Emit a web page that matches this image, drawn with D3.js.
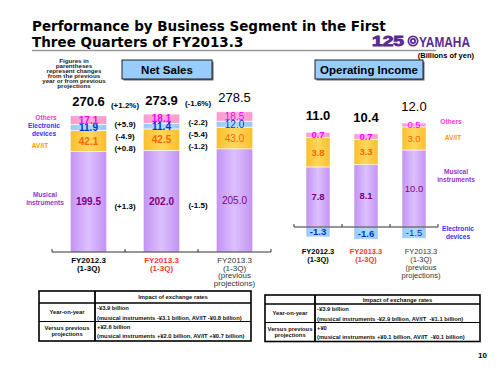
<!DOCTYPE html>
<html><head><meta charset="utf-8">
<script src="https://cdn.jsdelivr.net/npm/d3@7"></script>
<style>
body{margin:0;background:#fff}
svg{display:block;font-family:"Liberation Sans",Arial,sans-serif}
text{white-space:pre}
</style>
</head><body><svg id="c" width="500" height="375"></svg>
<script>
// ---------- data ----------
const categories = ["FY2012.3", "FY2013.3", "FY2013.3"];
const categorySub = [["(1-3Q)"], ["(1-3Q)"], ["(1-3Q)", "(previous", "projections)"]];
const segmentKeys = ["musical", "avit", "electronic", "others"];
const legendLabels = {musical: ["Musical", "instruments"], avit: ["AV/IT"], electronic: ["Electronic", "devices"], others: ["Others"]};

const salesMusical = [199.5, 202.0, 205.0];
const salesAVIT = [42.1, 42.5, 43.0];
const salesElectronic = [11.9, 11.4, 12.0];
const salesOthers = [17.1, 18.1, 18.5];
const salesTotal = [270.6, 273.9, 278.5];
const salesTotalChange = ["(+1.2%)", "(-1.6%)"];
const salesOthersChange = ["(+5.9)", "(-2.2)"];
const salesElectronicChange = ["(-4.9)", "(-5.4)"];
const salesAVITChange = ["(+0.8)", "(-1.2)"];
const salesMusicalChange = ["(+1.3)", "(-1.5)"];

const incomeMusical = [7.8, 8.1, 10.0];
const incomeAVIT = [3.8, 3.3, 3.0];
const incomeElectronic = [-1.3, -1.6, -1.5];
const incomeOthers = [0.7, 0.7, 0.5];
const incomeTotal = [11.0, 10.4, 12.0];

const fxHeader = "Impact of exchange rates";
const fxRowLabels = [["Year-on-year"], ["Versus previous", "projections"]];
const salesFxText = [["-¥3.9 billion", "(musical instruments -¥3.1 billion, AV/IT -¥0.8 billion)"],
                     ["+¥2.6 billion", "(musical instruments +¥2.0 billion, AV/IT +¥0.7 billion)"]];
const incomeFxText = [["-¥3.9 billion", "(musical instruments -¥2.9 billion, AV/IT  -¥1.1 billion)"],
                      ["+¥0", "(musical instruments +¥0.1 billion, AV/IT  -¥0.1 billion)"]];

const noteLines = ["Figures in", "parentheses", "represent changes", "from the previous", "year or from previous", "projections"];

// ---------- styles ----------
const valueColor = {musical: "#800080", avit: "#ff6600", electronic: "#0033cc", others: "#ff00ff"};
const legendColor = {musical: "#9933cc", avit: "#ff9900", electronic: "#3333ff", others: "#ff33cc"};
const catColor = ["#000", "#ff3333", "#333"];
const catWeight = ["bold", "bold", "normal"];
const fmt = d3.formatLocale({decimal: ".", thousands: ",", grouping: [3], currency: ["", ""], minus: "-"}).format(".1f");

const svg = d3.select("#c");
const defs = svg.append("defs");
function grad(id, edge, mid) {
  const g = defs.append("linearGradient").attr("id", id).attr("x1", 0).attr("x2", 1).attr("y1", 0).attr("y2", 0);
  g.append("stop").attr("offset", "0%").attr("stop-color", edge);
  g.append("stop").attr("offset", "50%").attr("stop-color", mid);
  g.append("stop").attr("offset", "100%").attr("stop-color", edge);
}
grad("gMus", "#c393f3", "#dcc0fe");
grad("gAv", "#f9bf2c", "#ffd75e");
grad("gEl", "#98c8f6", "#b4dafc");
grad("gOt", "#f79ccd", "#fdb0da");
const fillFor = {musical: "url(#gMus)", avit: "url(#gAv)", electronic: "url(#gEl)", others: "url(#gOt)"};

// ---------- title ----------
const title = svg.append("g").attr("font-family", "'DejaVu Sans',sans-serif").attr("font-weight", "bold").attr("font-size", 13.5).attr("fill", "#000");
title.append("text").attr("x", 32).attr("y", 31).text("Performance by Business Segment in the First");
title.append("text").attr("x", 32).attr("y", 46.5).text("Three Quarters of FY2013.3");
svg.append("line").attr("x1", 32).attr("x2", 436).attr("y1", 50.5).attr("y2", 50.5).attr("stroke", "#9a9a9a").attr("stroke-width", 1.5);

// logo
const logo = svg.append("g").attr("fill", "#5b2c8f");
logo.append("text").attr("x", 372).attr("y", 46).attr("font-size", 14).attr("font-weight", 900)
  .attr("stroke", "#5b2c8f").attr("stroke-width", 0.9)
  .attr("textLength", 32).attr("lengthAdjust", "spacingAndGlyphs").text("125");
logo.append("circle").attr("cx", 413).attr("cy", 41).attr("r", 5.5);
logo.append("circle").attr("cx", 413).attr("cy", 41).attr("r", 3.6).attr("fill", "none").attr("stroke", "#fff").attr("stroke-width", 0.8);
logo.append("circle").attr("cx", 413).attr("cy", 41).attr("r", 1.2).attr("fill", "#fff");
logo.append("text").attr("x", 419).attr("y", 46.5).attr("font-size", 14.5).attr("font-weight", "bold")
  .attr("textLength", 51).attr("lengthAdjust", "spacingAndGlyphs").text("YAMAHA");
svg.append("text").attr("x", 474).attr("y", 58).attr("text-anchor", "end").attr("font-size", 7.5).attr("font-weight", "bold").text("(Billions of yen)");

// note
const note = svg.append("g").attr("font-size", 6.2).attr("font-weight", "bold").attr("fill", "#222").attr("text-anchor", "middle");
noteLines.forEach((t, i) => note.append("text").attr("x", 74).attr("y", 63 + i * 5).text(t));

// boxes
function box(x, y, w, h, label) {
  svg.append("rect").attr("x", x + 1.5).attr("y", y + 1.5).attr("width", w).attr("height", h).attr("fill", "#666");
  svg.append("rect").attr("x", x).attr("y", y).attr("width", w).attr("height", h).attr("fill", "#99ccff").attr("stroke", "#222").attr("stroke-width", 1);
  svg.append("text").attr("x", x + w / 2).attr("y", y + h / 2).attr("dy", "0.36em").attr("text-anchor", "middle")
    .attr("font-size", 11.5).attr("font-weight", "bold").text(label);
}
box(122, 60, 90, 19, "Net Sales");
box(315, 60, 108, 19, "Operating Income");

// ---------- chart builder ----------
function drawChart(cfg) {
  const rows = categories.map((c, i) => ({i, musical: cfg.musical[i], avit: cfg.avit[i], electronic: cfg.electronic[i], others: cfg.others[i]}));
  const x = d3.scaleBand().domain(d3.range(categories.length)).range(cfg.xRange).paddingInner(0.5).paddingOuter(0.25);
  const y = d3.scaleLinear().domain(cfg.yDomain).range(cfg.yRange);
  const series = d3.stack().keys(segmentKeys).offset(d3.stackOffsetDiverging)(rows);
  const g = svg.append("g");

  // bars
  series.forEach(s => {
    g.selectAll(null).data(s).join("rect")
      .attr("x", d => x(d.data.i)).attr("width", x.bandwidth())
      .attr("y", d => y(Math.max(d[0], d[1]))).attr("height", d => Math.abs(y(d[0]) - y(d[1])))
      .attr("fill", fillFor[s.key]).attr("stroke", "#fff").attr("stroke-width", 0.6);
  });
  // values
  series.forEach(s => {
    g.selectAll(null).data(s).join("text")
      .attr("x", d => x(d.data.i) + x.bandwidth() / 2)
      .attr("y", d => y((d[0] + d[1]) / 2)).attr("dy", "0.36em")
      .attr("text-anchor", "middle").attr("font-size", cfg.valueSize)
      .attr("font-weight", d => catWeight[d.data.i])
      .attr("fill", valueColor[s.key])
      .text(d => fmt(d.data[s.key]));
  });
  // totals
  const topOf = i => y(d3.sum(segmentKeys, k => Math.max(0, rows[i][k])));
  g.selectAll(null).data(cfg.total).join("text")
    .attr("x", (d, i) => x(i) + x.bandwidth() / 2).attr("y", (d, i) => topOf(i) - cfg.totalGap)
    .attr("text-anchor", "middle").attr("font-size", 13).attr("font-weight", (d, i) => catWeight[i])
    .attr("fill", "#000").text(d => fmt(d));

  // axis
  const axY = y(0);
  const [r0, r1] = x.range();
  g.append("line").attr("x1", r0).attr("x2", r1).attr("y1", axY).attr("y2", axY).attr("stroke", "#333").attr("stroke-width", 1.2);
  g.selectAll(null).data(d3.range(categories.length + 1)).join("line")
    .attr("x1", i => r0 + i * x.step()).attr("x2", i => r0 + i * x.step())
    .attr("y1", axY).attr("y2", axY - 3).attr("stroke", "#333").attr("stroke-width", 1);

  // category labels
  categories.forEach((c, i) => {
    const lines = [c].concat(categorySub[i]);
    lines.forEach((t, j) => {
      g.append("text").attr("x", x(i) + x.bandwidth() / 2 + (i === 2 ? cfg.thirdShift : 0))
        .attr("y", cfg.catY + j * cfg.catLH).attr("text-anchor", "middle")
        .attr("font-size", cfg.catSize).attr("font-weight", catWeight[i]).attr("fill", catColor[i]).text(t);
    });
  });

  // legend labels
  cfg.legend.forEach(L => {
    legendLabels[L.key].forEach((t, j) => {
      g.append("text").attr("x", L.x).attr("y", L.y + j * 8).attr("text-anchor", "middle")
        .attr("font-size", 6.6).attr("font-weight", "bold").attr("fill", legendColor[L.key]).text(t);
    });
  });
  return {x, y, rows, topOf};
}

// ---------- Net sales ----------
const S = drawChart({
  musical: salesMusical, avit: salesAVIT, electronic: salesElectronic, others: salesOthers, total: salesTotal,
  xRange: [52, 271], yDomain: [0, 300], yRange: [252, 101], valueSize: 10, totalGap: 9.5,
  catY: 263, catLH: 7.6, catSize: 8, thirdShift: 0,
  legend: [{key: "others", x: 46, y: 119.5}, {key: "electronic", x: 44, y: 127.5}, {key: "avit", x: 40, y: 147.5}, {key: "musical", x: 45, y: 197}]
});
// change labels between bars
const changeSets = [salesOthersChange, salesElectronicChange, salesAVITChange];
[0, 1].forEach(p => {
  const gx = (S.x(p) + S.x.bandwidth() + S.x(p + 1)) / 2;
  const top = S.topOf(p);
  svg.append("text").attr("x", gx).attr("y", top - 8).attr("text-anchor", "middle").attr("font-size", 8).attr("font-weight", "bold").text(salesTotalChange[p]);
  changeSets.forEach((arr, k) => {
    svg.append("text").attr("x", gx).attr("y", top + 8 + k * 12).attr("dy", "0.36em").attr("text-anchor", "middle")
      .attr("font-size", 8).attr("font-weight", "bold").text(arr[p]);
  });
  svg.append("text").attr("x", gx).attr("y", S.y(salesMusical[p] / 2) + 4).attr("dy", "0.36em").attr("text-anchor", "middle")
    .attr("font-size", 8).attr("font-weight", "bold").text(salesMusicalChange[p]);
});

// ---------- Operating income ----------
drawChart({
  musical: incomeMusical, avit: incomeAVIT, electronic: incomeElectronic, others: incomeOthers, total: incomeTotal,
  xRange: [294, 438], yDomain: [-3, 15], yRange: [250.1, 111.5], valueSize: 9.5, totalGap: 12,
  catY: 254, catLH: 8, catSize: 7.5, thirdShift: 7,
  legend: [{key: "others", x: 451, y: 124}, {key: "avit", x: 453, y: 140}, {key: "musical", x: 456, y: 174}, {key: "electronic", x: 458, y: 231}]
});

// ---------- tables ----------
function table(t) {
  const g = svg.append("g");
  g.append("rect").attr("x", t.x0).attr("y", t.y0).attr("width", t.x1 - t.x0).attr("height", t.y1 - t.y0)
    .attr("fill", "#fff").attr("stroke", "#000").attr("stroke-width", 1.6);
  g.append("line").attr("x1", t.x0).attr("x2", t.x1).attr("y1", t.yh).attr("y2", t.yh).attr("stroke", "#000").attr("stroke-width", 1.6);
  g.append("line").attr("x1", t.x0).attr("x2", t.x1).attr("y1", t.yr).attr("y2", t.yr).attr("stroke", "#000").attr("stroke-width", 1.2);
  g.append("line").attr("x1", t.xc).attr("x2", t.xc).attr("y1", t.y0).attr("y2", t.y1).attr("stroke", "#000").attr("stroke-width", 1.8);
  const txt = (x, y, s, anchor) => g.append("text").attr("x", x).attr("y", y).attr("text-anchor", anchor || "start")
    .attr("font-size", 5.8).attr("font-weight", "bold").attr("fill", "#111").text(s);
  txt((t.xc + t.x1) / 2, (t.y0 + t.yh) / 2 + 2.1, fxHeader, "middle");
  const rowTop = [t.yh, t.yr], rowBot = [t.yr, t.y1];
  fxRowLabels.forEach((lab, r) => {
    const cy = (rowTop[r] + rowBot[r]) / 2;
    lab.forEach((s, j) => txt((t.x0 + t.xc) / 2, cy + 2 + (j - (lab.length - 1) / 2) * 6, s, "middle"));
    t.text[r].forEach((s, j) => txt(t.xc + 2, rowTop[r] + 7 + j * 9.5, s));
  });
}
table({x0: 39, x1: 251, y0: 291, yh: 303, yr: 321.5, y1: 341, xc: 95, text: salesFxText});
table({x0: 265, x1: 480, y0: 295, yh: 304, yr: 322.5, y1: 341.5, xc: 315, text: incomeFxText});

svg.append("text").attr("x", 487).attr("y", 358).attr("text-anchor", "end").attr("font-size", 8).attr("font-weight", "bold").text("10");
</script>
</body></html>
